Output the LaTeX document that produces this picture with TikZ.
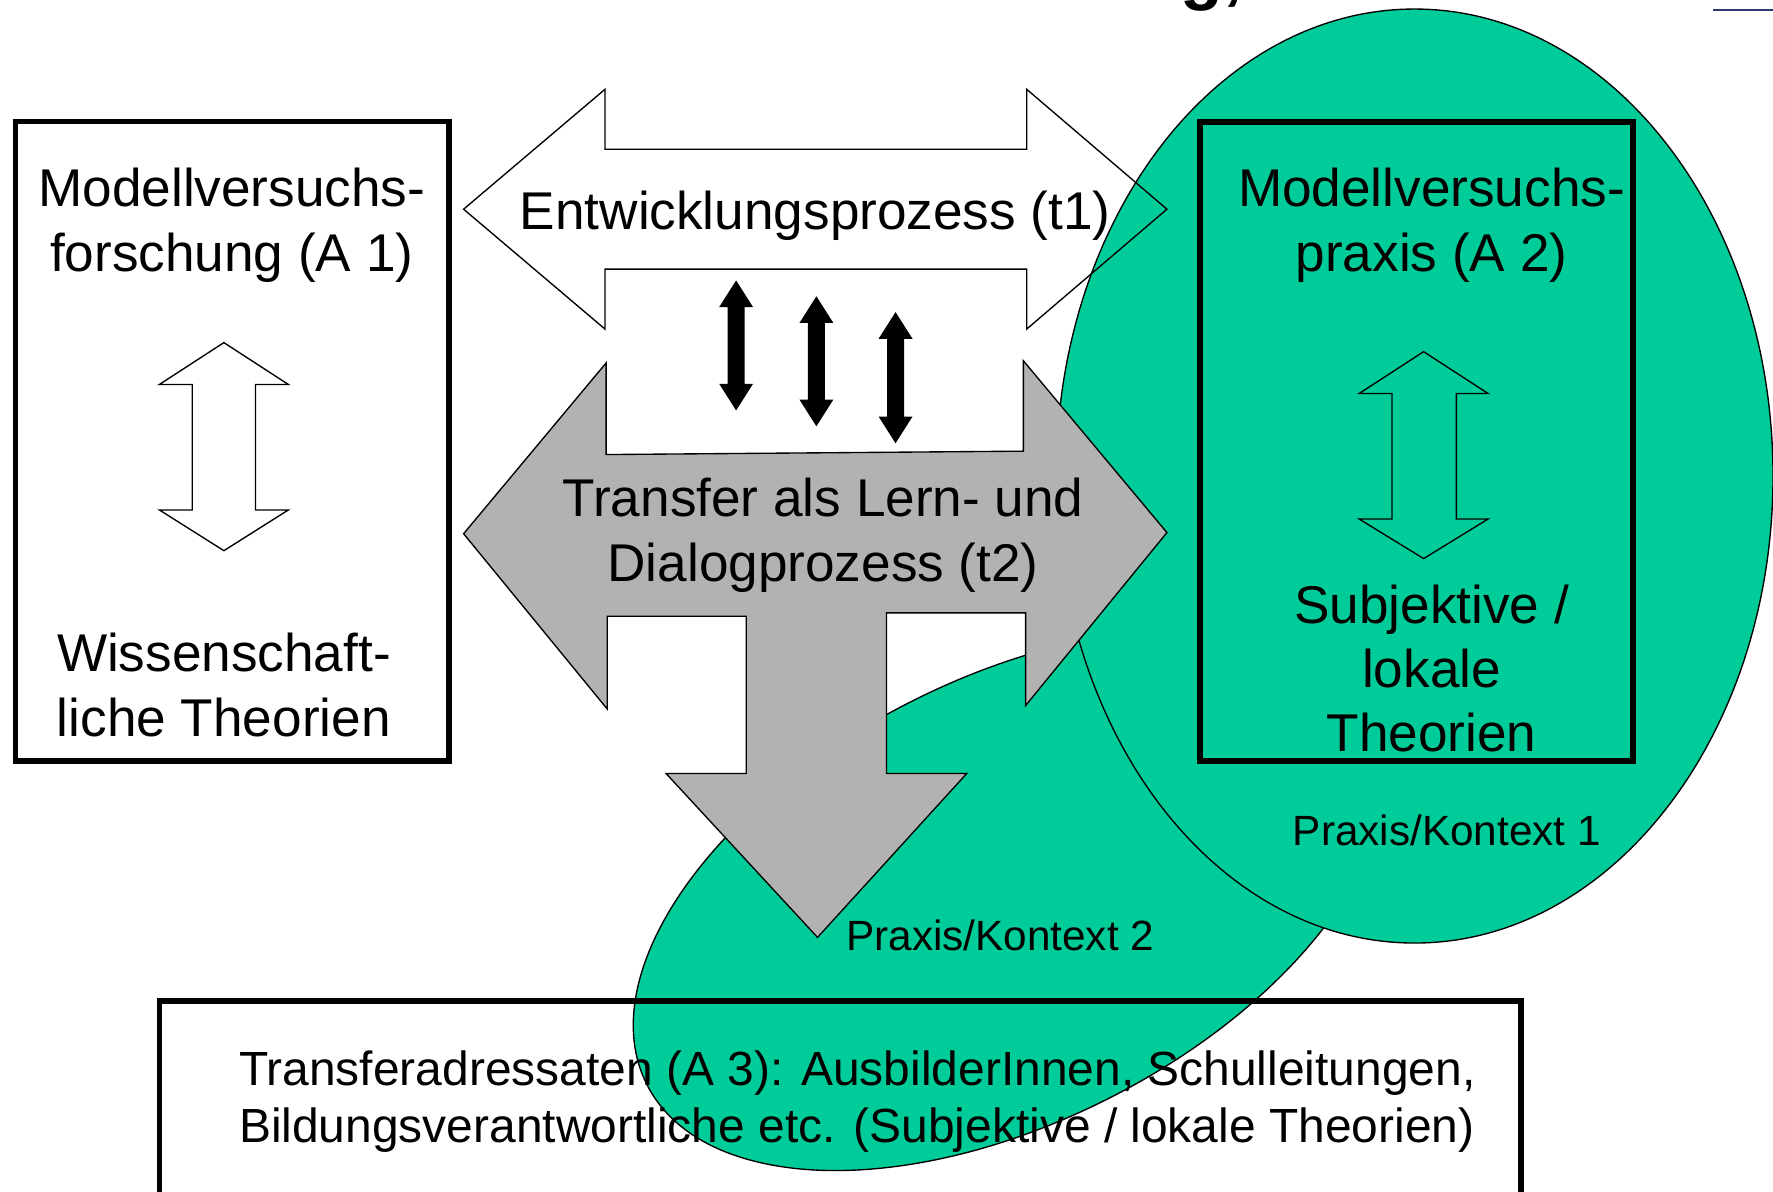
\documentclass[tikz,border=0pt]{standalone}
\usepackage{fontspec}
\setmainfont{Liberation Sans}
\definecolor{mvgreen}{RGB}{0,204,153}
\definecolor{mvgray}{RGB}{178,178,178}
\definecolor{hdrblue}{RGB}{40,60,110}
\newcommand\ctrlines[1]{\vtop{\halign{\hfil##\hfil\cr#1\crcr}}}
\newcommand\leftlines[1]{\vtop{\halign{##\hfil\cr#1\crcr}}}
\newcommand\solidarrow[3]{\fill[black] (#1,#2) -- (#1+15,#2+23.6) -- (#1+7.5,#2+23.6) -- (#1+7.5,#3-23.6) -- (#1+15,#3-23.6) -- (#1,#3) -- (#1-15,#3-23.6) -- (#1-7.5,#3-23.6) -- (#1-7.5,#2+23.6) -- (#1-15,#2+23.6) -- cycle;}
\begin{document}
\begin{tikzpicture}[x=0.5pt,y=-0.5pt,
  thinline/.style={draw=black, line width=0.6pt, line join=miter},
  frame/.style={draw=black, line width=2.5pt},
  ellfill/.style={fill=mvgreen, draw=black, line width=0.6pt},
  lbl/.style={font=\fontsize{23.5}{28.5}\selectfont, inner sep=0pt, anchor=base},
  smalllbl/.style={font=\fontsize{18.7}{22}\selectfont, inner sep=0pt, anchor=base west},
  btmlbl/.style={font=\fontsize{21.2}{25}\selectfont, inner sep=0pt, anchor=base west}]
\useasboundingbox (0,0) rectangle (1568,1054);
% header fragments
\node[font=\bfseries\fontsize{31}{31}\selectfont, inner sep=0pt, anchor=base west] (title) at (1044,-3) {g,};
\draw[hdrblue, line width=0.9pt] (1515,8.5) -- (1575,8.5);
% context ellipses
\path[ellfill, rotate around={27:(893,796)}] (893,796) ellipse [x radius=360, y radius=196];
\path[ellfill] (1251,421) ellipse [x radius=317, y radius=413];
% development arrow (t1)
\draw[thinline] (410,185) -- (535,79) -- (535,132) -- (908,132) -- (908,79) -- (1032,185) -- (908,291) -- (908,238) -- (535,238) -- (535,291) -- cycle;
% transfer arrow (t2)
\draw[thinline, fill=mvgray] (410,472) -- (536,321) -- (536,402) -- (905,399) -- (905,319) -- (1032,471) -- (907,624) -- (907,542) -- (784,542) -- (784,684) -- (855,684) -- (723,829) -- (589,684) -- (660,684) -- (660,545) -- (537,545) -- (537,627) -- cycle;
% small black double arrows
\solidarrow{651}{248}{363}
\solidarrow{722}{262}{377}
\solidarrow{792}{276}{392}
% boxes
\draw[frame] (13.7,107.3) rectangle (397,673);
\draw[frame] (1061,108) rectangle (1444,673);
\draw[frame] (141,885) rectangle (1345,1075);
% hollow double arrows in boxes
\draw[thinline, fill=white] (198,303) -- (255,340) -- (226,340) -- (226,451) -- (255,451) -- (198,487) -- (141,451) -- (170,451) -- (170,340) -- (141,340) -- cycle;
\draw[thinline] (1259,311) -- (1316,348) -- (1288,348) -- (1288,459) -- (1316,459) -- (1259,494) -- (1202,459) -- (1231,459) -- (1231,348) -- (1202,348) -- cycle;
% texts
\node[lbl] (tA1) at (205,183) {\ctrlines{Modellversuchs-\cr forschung (A 1)}};
\node[lbl] (tWT) at (198,594) {\ctrlines{Wissenschaft-\cr liche Theorien}};
\node[lbl] (tA2) at (1266,183) {\ctrlines{Modellversuchs-\cr praxis (A 2)}};
\node[lbl] (tSub) at (1266,551) {\ctrlines{Subjektive /\cr lokale\cr Theorien}};
\node[lbl] (tT1) at (721,203) {Entwicklungsprozess (t1)};
\node[lbl] (tT2) at (728,457) {\ctrlines{Transfer als Lern- und\cr Dialogprozess (t2)}};
\node[smalllbl] (tK1) at (1143,748) {Praxis/Kontext 1};
\node[smalllbl] (tK2) at (748,841) {Praxis/Kontext 2};
\node[btmlbl] (tA3) at (211,960) {\leftlines{Transferadressaten (A 3): AusbilderInnen, Schulleitungen,\cr Bildungsverantwortliche etc. (Subjektive / lokale Theorien)}};
\end{tikzpicture}
\end{document}
